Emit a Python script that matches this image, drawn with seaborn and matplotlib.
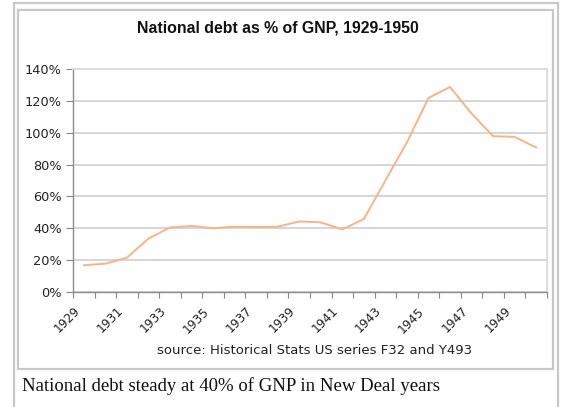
import matplotlib
matplotlib.use("Agg")
import matplotlib.pyplot as plt
from matplotlib.patches import Rectangle
from matplotlib.ticker import FixedLocator, FuncFormatter
from matplotlib.transforms import ScaledTranslation
import seaborn as sns
import pandas as pd

years = list(range(1929, 1951))
debt_pct = [16.8, 17.8, 21.5, 33.5, 40.5, 41.5, 40.0, 41.0, 40.8, 41.0,
            44.3, 43.7, 39.3, 45.8, 70.0, 94.0, 121.8, 128.7, 112.0, 97.8,
            97.4, 90.7]
ytick_vals = [0, 20, 40, 60, 80, 100, 120, 140]
xtick_years = [1929, 1931, 1933, 1935, 1937, 1939, 1941, 1943, 1945, 1947, 1949]
title = "National debt as % of GNP, 1929-1950"
source = "source: Historical Stats US series F32 and Y493"
caption = "National debt steady at 40% of GNP in New Deal years"

df = pd.DataFrame({"year": years, "pct": debt_pct})

sns.set_theme(style="white")
plt.rcParams["font.family"] = ["DejaVu Sans"]

W, H = 562, 407
fig = plt.figure(figsize=(W / 100, H / 100), dpi=100)
fig.patch.set_facecolor("white")

def fx(x):
    return x / W

def fy(y):
    return 1 - y / H

# thumbnail frames
fig.add_artist(Rectangle((fx(14), fy(410)), fx(558) - fx(14), fy(3) - fy(410),
                         transform=fig.transFigure, fill=False,
                         edgecolor="#c8c8c8", linewidth=1.6))
fig.add_artist(Rectangle((fx(18), fy(369)), fx(552.5) - fx(18), fy(10) - fy(369),
                         transform=fig.transFigure, fill=False,
                         edgecolor="#c8c8c8", linewidth=1.6))

left, right, top, bottom = 73, 547, 69, 292
ax = fig.add_axes([fx(left), fy(bottom), fx(right) - fx(left), fy(top) - fy(bottom)])

sns.lineplot(data=df, x="year", y="pct", ax=ax, color="#f7b48a", linewidth=1.4)

ax.set_xlim(1928.5, 1950.5)
ax.set_ylim(0, 140)
ax.set_yticks(ytick_vals)
ax.yaxis.set_major_formatter(FuncFormatter(lambda v, p: f"{int(v)}%"))
ax.grid(axis="y", color="#d6d6d6", linewidth=1.4)
ax.set_axisbelow(True)

ax.set_xticks(xtick_years)
ax.set_xticklabels([str(y) for y in xtick_years], rotation=45, ha="right",
                   rotation_mode="anchor", fontsize=8.8, color="#222222")
ax.xaxis.set_minor_locator(FixedLocator([y + 0.5 for y in range(1928, 1951)]))
ax.tick_params(axis="x", which="major", length=0, pad=9)
ax.tick_params(axis="x", which="minor", length=4, width=0.8, color="#888888",
               direction="out", bottom=True)
ax.tick_params(axis="y", length=5, width=0.8, color="#888888", direction="out",
               left=True, labelsize=9.3, labelcolor="#222222", pad=3)

shift = ScaledTranslation(-7.5 / 72, 0, fig.dpi_scale_trans)
for lab in ax.get_xticklabels():
    lab.set_transform(lab.get_transform() + shift)

for s in ["left", "bottom"]:
    ax.spines[s].set_color("#8c8c8c")
    ax.spines[s].set_linewidth(1.0)
for s in ["top", "right"]:
    ax.spines[s].set_color("#dcdcdc")
    ax.spines[s].set_linewidth(1.4)

ax.set_xlabel("")
ax.set_ylabel("")

fig.text(fx(278), fy(28), title, ha="center", va="center",
         fontsize=11.4, fontweight="bold", family="Liberation Sans", color="#111111")
fig.text(fx(315), fy(351), source, ha="center", va="center",
         fontsize=9.5, color="#222222")
fig.text(fx(22), fy(386), caption, ha="left", va="center",
         fontsize=13.5, family="Liberation Serif", color="#111111")

fig.savefig("out.png", dpi=100, facecolor="white")
